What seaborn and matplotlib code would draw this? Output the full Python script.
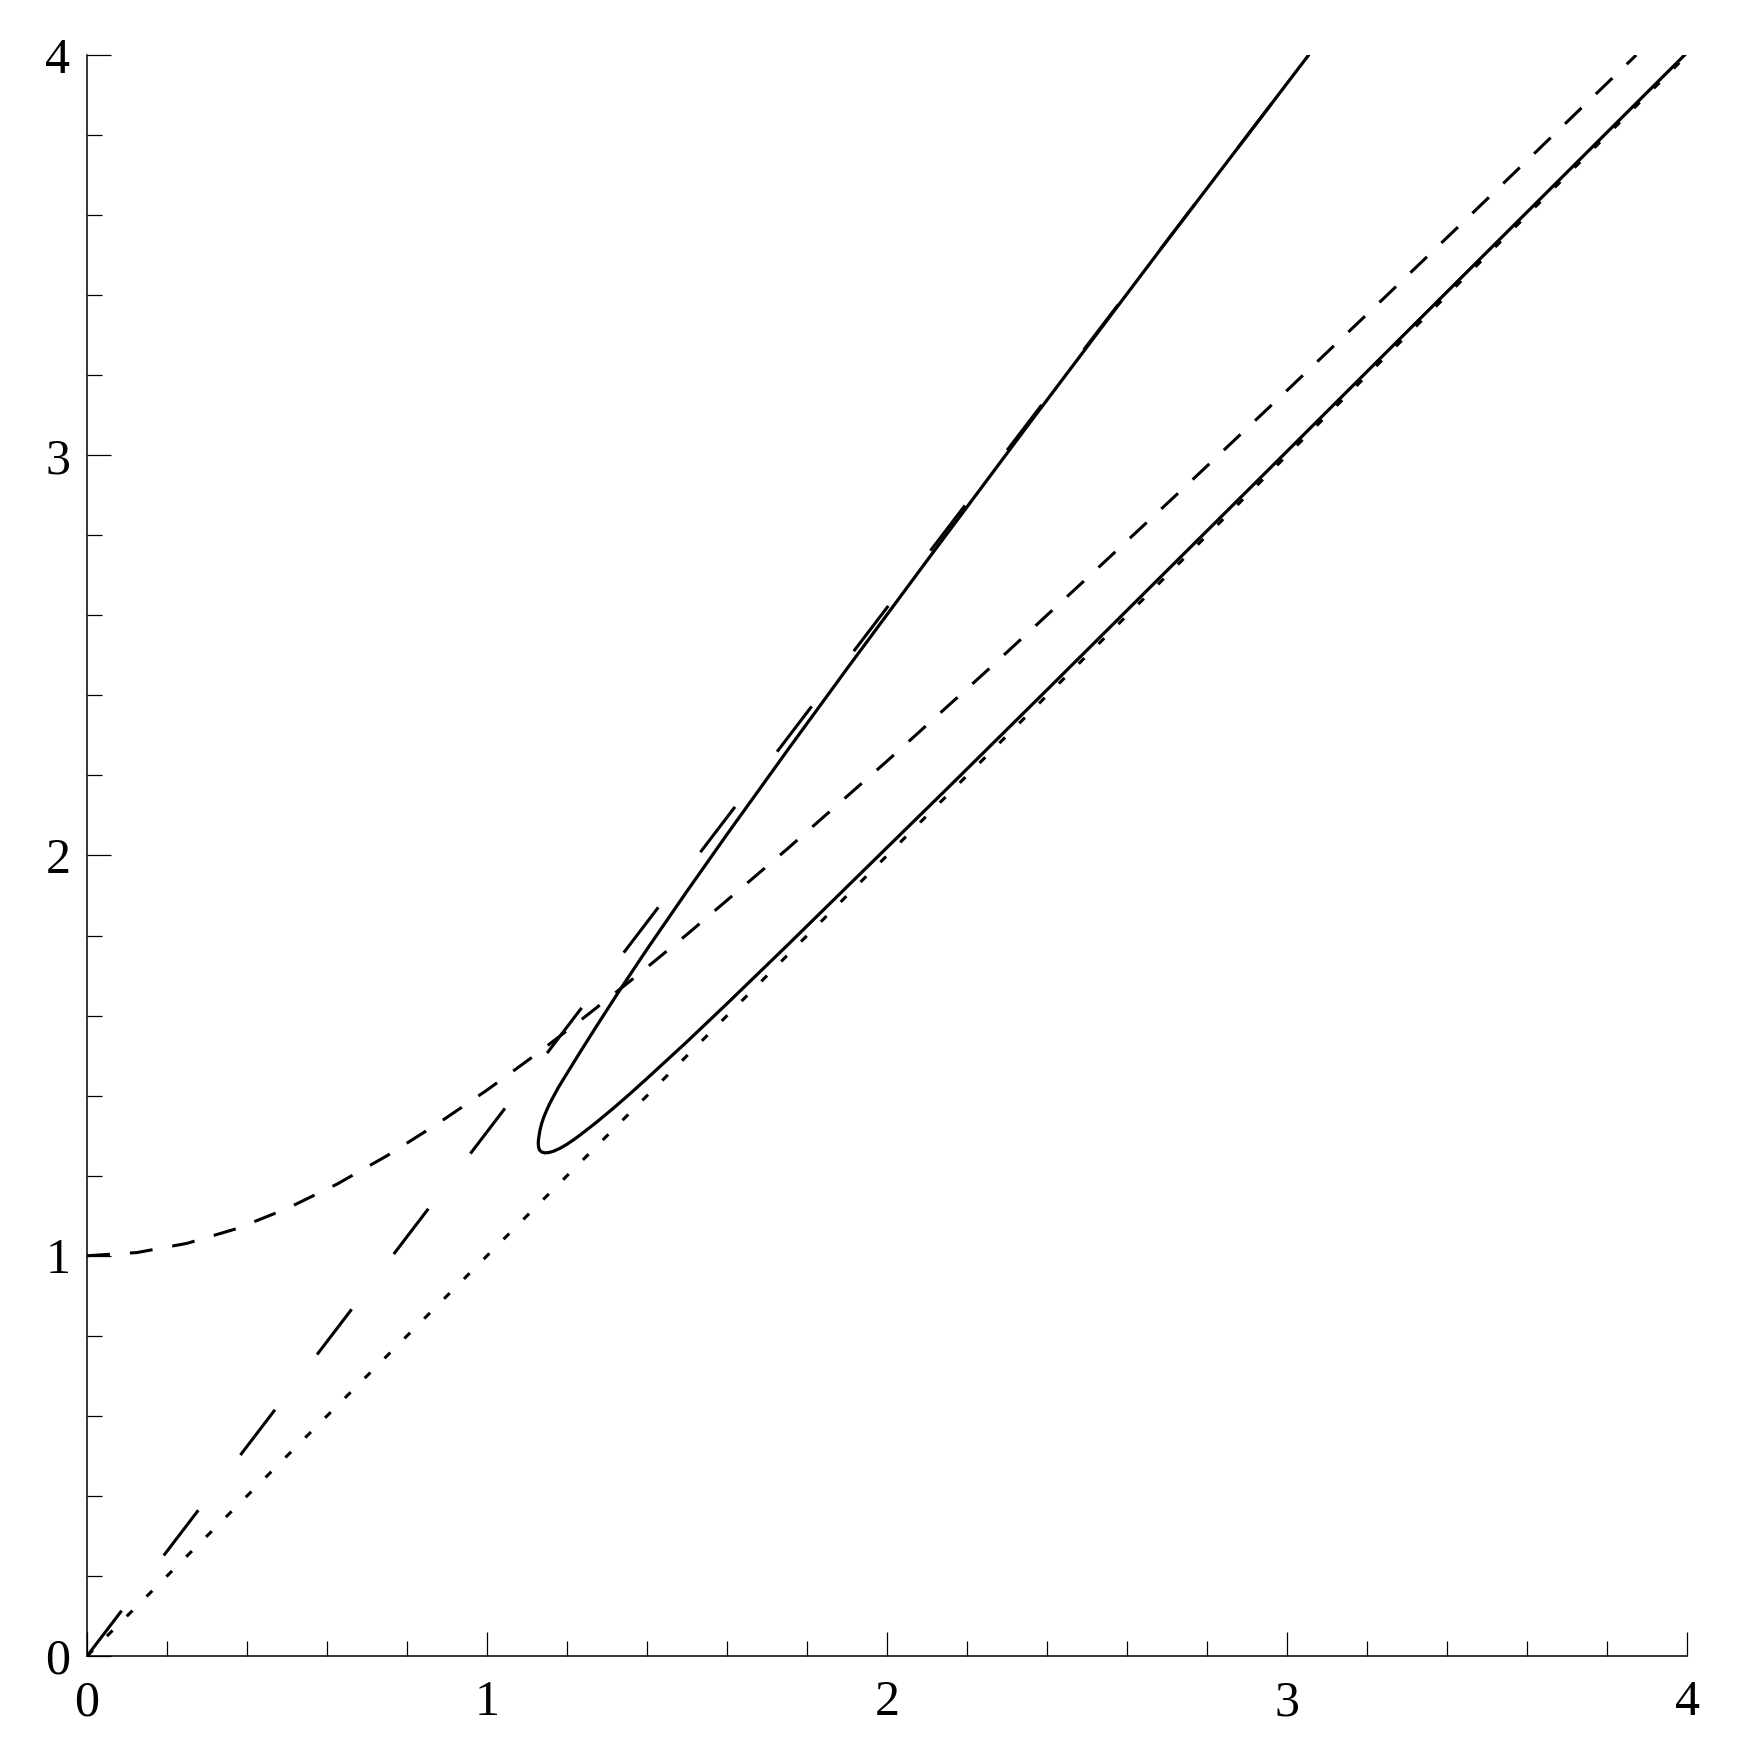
import matplotlib
matplotlib.use("Agg")
import matplotlib.pyplot as plt
import seaborn as sns

sns.set_theme(style="ticks")
plt.rcParams['font.family'] = ['Liberation Serif', 'DejaVu Serif']
plt.rcParams['lines.scale_dashes'] = False

# diagonal y = x (dotted)
diag_x = [0.0, 4.0]
diag_y = [0.0, 4.0]

# steeper straight line (long dashes)
steep_x = [0.0, 3.054]
steep_y = [0.0, 4.0]

# hyperbola-like curve (short dashes)
hyp_x = [0.0, 0.125, 0.25, 0.375, 0.5, 0.625, 0.75, 0.875, 1.0, 1.125, 1.25, 1.375,
         1.5, 1.75, 2.0, 2.25, 2.5, 2.75, 3.0, 3.25, 3.5, 3.873]
hyp_y = [1.000, 1.008, 1.031, 1.068, 1.118, 1.179, 1.250, 1.329, 1.414, 1.505, 1.601, 1.700,
         1.803, 2.016, 2.236, 2.462, 2.693, 2.926, 3.162, 3.400, 3.640, 4.000]

# loop curve (solid): upper branch from the top down to the tip, then lower branch
loop_x = [3.054, 2.70, 2.35, 2.10, 1.90, 1.75, 1.60, 1.50, 1.40, 1.33, 1.2742, 1.2325,
          1.1908, 1.178, 1.1658, 1.157, 1.1492, 1.142, 1.1367, 1.1325, 1.130, 1.1285,
          1.128, 1.129, 1.132, 1.137, 1.145, 1.155, 1.1658, 1.1825, 1.1992, 1.2158,
          1.2325, 1.274, 1.3158, 1.358, 1.40, 1.50, 1.60, 1.75, 1.90, 2.15, 2.40, 2.70,
          3.00, 3.50, 4.00]
loop_y = [4.000, 3.536, 3.072, 2.737, 2.467, 2.2615, 2.053, 1.911, 1.766, 1.661, 1.5744, 1.5085,
          1.441, 1.420, 1.3975, 1.381, 1.364, 1.347, 1.331, 1.315, 1.300, 1.290,
          1.280, 1.270, 1.263, 1.259, 1.257, 1.258, 1.261, 1.2685, 1.2782, 1.2893,
          1.3015, 1.3339, 1.3686, 1.4053, 1.4431, 1.535, 1.630, 1.775, 1.922, 2.167, 2.414, 2.712,
          3.010, 3.508, 4.006]

ticks = [0, 1, 2, 3, 4]
minor_ticks = [0.2 * i for i in range(21)]

fig = plt.figure(figsize=(17.45, 17.63), dpi=100)
ax = fig.add_axes([0.0499, 0.0607, 0.9169, 0.9081])

sns.lineplot(x=diag_x, y=diag_y, ax=ax, color='black', lw=2.2, linestyle=(0, (5.8, 14.4)))
sns.lineplot(x=steep_x, y=steep_y, ax=ax, color='black', lw=2.2, linestyle=(0, (41, 50)))
sns.lineplot(x=hyp_x, y=hyp_y, ax=ax, sort=False, estimator=None, color='black', lw=2.2,
             linestyle=(0, (16.5, 14.4)))
sns.lineplot(x=loop_x, y=loop_y, ax=ax, sort=False, estimator=None, color='black', lw=2.3)

ax.set_xlim(0, 4)
ax.set_ylim(0, 4)
ax.set_xticks(ticks)
ax.set_yticks(ticks)
ax.set_xticks(minor_ticks, minor=True)
ax.set_yticks(minor_ticks, minor=True)
ax.set_xticklabels([str(t) for t in ticks])
ax.set_yticklabels([str(t) for t in ticks])

sns.despine(ax=ax)
for s in ['left', 'bottom']:
    ax.spines[s].set_color('black')
    ax.spines[s].set_linewidth(1.1)

ax.tick_params(which='major', direction='in', length=17, width=0.9, color='black',
               labelsize=36, labelcolor='black')
ax.tick_params(axis='x', which='major', pad=17)
ax.tick_params(axis='y', which='major', pad=12)
ax.tick_params(which='minor', direction='in', length=11, width=0.9, color='black')
ax.grid(False)

fig.savefig('out.png', dpi=100, facecolor='white')
